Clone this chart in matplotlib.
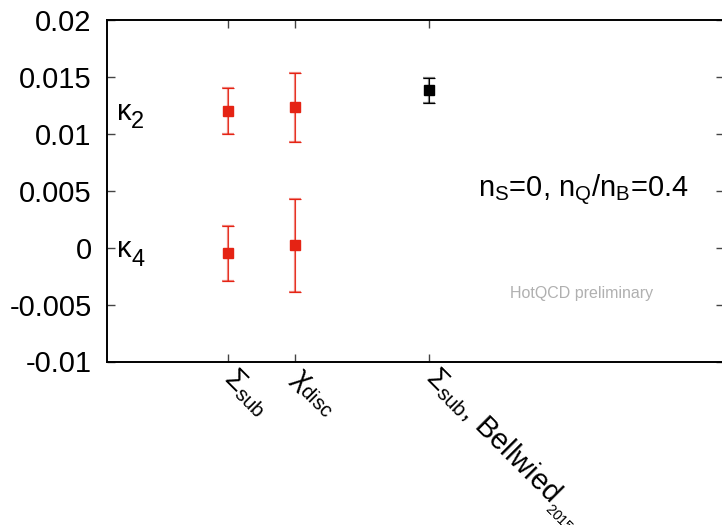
import matplotlib
matplotlib.use("Agg")
import matplotlib.pyplot as plt

plt.rcParams["font.family"] = ["Liberation Sans", "DejaVu Sans"]
plt.rcParams["mathtext.fontset"] = "custom"
plt.rcParams["mathtext.rm"] = "Liberation Sans"
plt.rcParams["mathtext.it"] = "Liberation Sans"
plt.rcParams["mathtext.default"] = "regular"
plt.rcParams["axes.unicode_minus"] = False

# methods on the x axis
methods = [r"$\Sigma_{sub}$", r"$\chi_{disc}$", r"$\Sigma_{sub}$, Bellwied$_{{}_{2015}}$"]
method_pos = [1, 2, 4]

# kappa_2 (this work) at the first two methods
k2_val = [0.0120, 0.0123]
k2_err = [0.0020, 0.0030]
# kappa_4 (this work)
k4_val = [-0.0005, 0.0002]
k4_err = [0.0024, 0.0041]
# Bellwied 2015 kappa_2
bw_val = [0.0138]
bw_err = [0.0011]

yticks = [-0.01, -0.005, 0, 0.005, 0.01, 0.015, 0.02]

fig = plt.figure(figsize=(7.22, 5.25), dpi=100)
ax = fig.add_axes([107 / 722, 1 - 361.5 / 525, 617 / 722, 341.8 / 525])

red = "#e52314"
for vals, errs in [(k2_val, k2_err), (k4_val, k4_err)]:
    ax.errorbar(method_pos[:2], vals, yerr=errs, fmt="none", ecolor=red,
                alpha=0.55, elinewidth=1.6, capsize=4, capthick=1.6)
    ax.errorbar(method_pos[:2], vals, yerr=errs, fmt="s", color=red, ms=6.5,
                ecolor=red, elinewidth=0.6, capsize=4, capthick=0.8)
ax.errorbar(method_pos[2:], bw_val, yerr=bw_err, fmt="none", ecolor="black",
            alpha=0.5, elinewidth=1.6, capsize=4, capthick=1.6)
ax.errorbar(method_pos[2:], bw_val, yerr=bw_err, fmt="s", color="black", ms=6.5,
            ecolor="black", elinewidth=0.7, capsize=4, capthick=0.8)

ax.set_xlim(-0.803, 8.39)
ax.set_ylim(-0.01, 0.02)
ax.set_yticks(yticks)
ax.set_yticklabels([f"{v:g}" for v in yticks], fontsize=21)
ax.set_xticks(method_pos)
ax.set_xticklabels(methods, fontsize=21, rotation=-45, ha="left", va="center",
                   rotation_mode="anchor")
ax.tick_params(direction="in", top=True, right=True, length=6, width=1,
               color="#444444")
ax.tick_params(axis="y", pad=11)
ax.tick_params(axis="x", pad=9)
for s in ax.spines.values():
    s.set_linewidth(1.4)

ytr = ax.get_yaxis_transform()
ax.text(0.016, 0.0112, "κ", transform=ytr, fontsize=21, va="baseline")
ax.text(0.039, 0.0105, "2", transform=ytr, fontsize=17, va="baseline")
ax.text(0.016, -0.00086, "κ", transform=ytr, fontsize=21, va="baseline")
ax.text(0.039, -0.00164, "4", transform=ytr, fontsize=17, va="baseline")
ax.text(0.601, 0.00445, r"$n_S$=0, $n_Q$/$n_B$=0.4", transform=ytr, fontsize=21,
        va="baseline")
ax.text(0.653, -0.00442, "HotQCD preliminary", transform=ytr, fontsize=11.5,
        color="#b0b0b0", va="baseline")

fig.savefig("out.png", dpi=100)
